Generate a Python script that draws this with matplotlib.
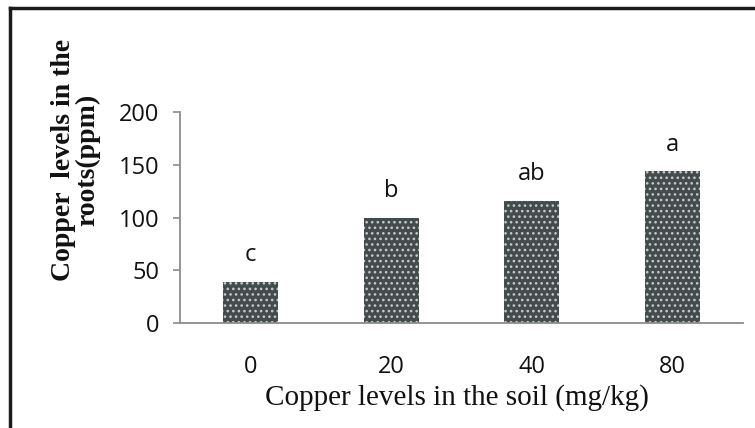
import numpy as np
import matplotlib
matplotlib.use("Agg")
import matplotlib.pyplot as plt
from matplotlib.lines import Line2D

# values
soil_levels = ['0', '20', '40', '80']
root_copper = [39, 100, 116, 144]
letters = ['c', 'b', 'ab', 'a']
y_ticks = [0, 50, 100, 150, 200]

BAR_COLOR = '#434b4c'
AXIS_COLOR = '#8c8c8c'

fig = plt.figure(figsize=(7.55, 4.28), dpi=100)
ax = fig.add_axes([0.2384, 0.2453, 0.7456, 0.493])

x = np.arange(len(soil_levels))
plt.rcParams['hatch.linewidth'] = 1.1
bars = ax.bar(x, root_copper, width=0.39, color=BAR_COLOR,
              edgecolor='#c3c7c7', linewidth=0, hatch='...')

for xi, v, lab in zip(x, root_copper, letters):
    ax.text(xi, v + 25, lab, ha='center', va='center',
            fontsize=17, family='Open Sans', color='#111111')

ax.set_xlim(-0.5, len(soil_levels) - 0.5)
ax.set_ylim(0, 200)
ax.set_yticks(y_ticks)
ax.set_xticks(x)
ax.set_xticklabels(soil_levels)

for s in ['top', 'right']:
    ax.spines[s].set_visible(False)
for s in ['left', 'bottom']:
    ax.spines[s].set_color(AXIS_COLOR)
    ax.spines[s].set_linewidth(1.3)

ax.tick_params(axis='y', length=5, width=1.2, color=AXIS_COLOR, pad=10,
               labelsize=17, labelcolor='#111111')
ax.tick_params(axis='x', length=0, pad=23, labelsize=17, labelcolor='#111111')
for lab in ax.get_xticklabels() + ax.get_yticklabels():
    lab.set_family('Open Sans')

# axis titles
fig.text(457 / 755, 1 - 398 / 428,
         'Copper levels in the soil (mg/kg)', ha='center', va='center',
         fontsize=21, family='Liberation Serif', color='#111111')
fig.text(76 / 755, 1 - 160 / 428, 'Copper  levels in the\nroots(ppm)',
         rotation=90, ha='center', va='center', multialignment='center',
         fontsize=20, family='Liberation Serif', fontweight='bold',
         linespacing=0.95, color='#111111')

# outer frame (left and top edges)
fig.add_artist(Line2D([10 / 755, 10 / 755], [0, 1 - 8 / 428],
                      transform=fig.transFigure, color='#1a1a1a', linewidth=2.5))
fig.add_artist(Line2D([10 / 755, 1], [1 - 8 / 428, 1 - 8 / 428],
                      transform=fig.transFigure, color='#1a1a1a', linewidth=2.5))

fig.savefig('out.png', dpi=100)
